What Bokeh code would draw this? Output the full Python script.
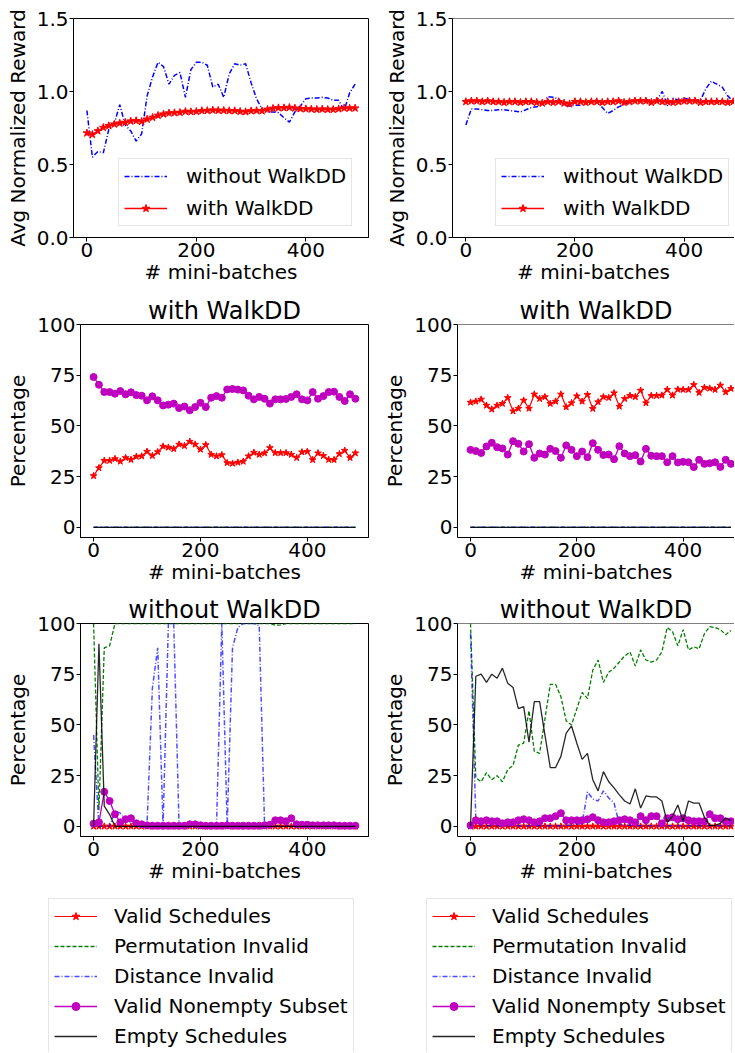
from bokeh.plotting import figure
from bokeh.layouts import column, row
from bokeh.models import (FixedTicker, PrintfTickFormatter, Range1d, Legend,
                          LegendItem, Span)
from bokeh.embed import file_html
from bokeh.resources import INLINE

# ---------------- data ----------------
batches = [0, 10, 20, 30, 40, 50, 60, 70, 80, 90,
           100, 110, 120, 130, 140, 150, 160, 170, 180, 190,
           200, 210, 220, 230, 240, 250, 260, 270, 280, 290,
           300, 310, 320, 330, 340, 350, 360, 370, 380, 390,
           400, 410, 420, 430, 440, 450, 460, 470, 480, 490]

x_ticks = [0, 200, 400]
reward_ticks = [0.0, 0.5, 1.0, 1.5]
pct_ticks = [0, 25, 50, 75, 100]

# top row: average normalized reward
reward_without_a = [0.87, 0.55, 0.59, 0.58, 0.74, 0.78, 0.91, 0.77, 0.73, 0.66,
                    0.71, 0.97, 1.10, 1.20, 1.17, 1.05, 1.11, 1.13, 0.96, 1.15,
                    1.20, 1.20, 1.18, 1.03, 1.05, 0.96, 1.12, 1.19, 1.18, 1.19,
                    1.06, 0.95, 0.88, 0.86, 0.86, 0.855, 0.82, 0.79, 0.86, 0.90,
                    0.95, 0.955, 0.955, 0.96, 0.955, 0.94, 0.94, 0.87, 0.99, 1.05]
reward_with_a = [0.715, 0.705, 0.73, 0.753, 0.765, 0.776, 0.783, 0.788, 0.797, 0.80,
                 0.795, 0.81, 0.822, 0.836, 0.845, 0.852, 0.854, 0.856, 0.863, 0.861,
                 0.863, 0.868, 0.869, 0.872, 0.870, 0.870, 0.868, 0.868, 0.863, 0.861,
                 0.867, 0.869, 0.867, 0.877, 0.884, 0.888, 0.888, 0.890, 0.886, 0.882,
                 0.881, 0.879, 0.877, 0.879, 0.877, 0.877, 0.881, 0.886, 0.886, 0.886]
reward_without_b = [0.77, 0.88, 0.88, 0.875, 0.87, 0.87, 0.875, 0.875, 0.87, 0.865,
                    0.86, 0.875, 0.89, 0.895, 0.91, 0.965, 0.96, 0.95, 0.91, 0.90,
                    0.905, 0.905, 0.92, 0.935, 0.94, 0.89, 0.85, 0.87, 0.895, 0.91,
                    0.93, 0.935, 0.945, 0.945, 0.93, 0.94, 1.00, 0.90, 0.955, 0.94,
                    0.955, 0.945, 0.94, 0.94, 1.02, 1.07, 1.05, 1.03, 0.97, 0.93]
reward_with_b = [0.93, 0.935, 0.935, 0.93, 0.935, 0.93, 0.93, 0.925, 0.93, 0.93,
                 0.925, 0.93, 0.93, 0.925, 0.92, 0.93, 0.925, 0.93, 0.92, 0.915,
                 0.93, 0.93, 0.925, 0.93, 0.93, 0.925, 0.93, 0.93, 0.935, 0.925,
                 0.93, 0.935, 0.935, 0.935, 0.925, 0.935, 0.93, 0.93, 0.925, 0.93,
                 0.935, 0.935, 0.935, 0.925, 0.93, 0.93, 0.93, 0.93, 0.925, 0.93]

zeros = [0, 0, 0, 0, 0, 0, 0, 0, 0, 0,
         0, 0, 0, 0, 0, 0, 0, 0, 0, 0,
         0, 0, 0, 0, 0, 0, 0, 0, 0, 0,
         0, 0, 0, 0, 0, 0, 0, 0, 0, 0,
         0, 0, 0, 0, 0, 0, 0, 0, 0, 0]

# middle row: with WalkDD (percentages)
valid_with_a = [25.4, 29.3, 32.9, 32.9, 33.8, 32.5, 34.3, 33.4, 34.9, 35.1,
                37.4, 35.3, 37.2, 39.9, 39.4, 38.7, 40.9, 40.2, 42.3, 40.9,
                38.4, 40.7, 35.9, 35.1, 35.7, 31.8, 31.5, 32.0, 32.5, 35.1,
                36.9, 35.9, 36.6, 39.2, 36.7, 36.7, 36.7, 35.9, 34.3, 37.1,
                37.4, 33.3, 36.6, 35.3, 33.4, 33.3, 36.2, 37.9, 34.3, 36.6]
nonempty_with_a = [74.1, 70.3, 66.7, 66.7, 65.9, 67.2, 65.6, 66.6, 65.2, 64.9,
                   62.6, 64.6, 62.6, 60.1, 60.5, 61.0, 58.8, 59.6, 57.7, 59.3,
                   61.4, 59.3, 63.9, 64.7, 63.9, 68.0, 68.2, 67.9, 67.5, 64.9,
                   63.1, 64.3, 63.4, 61.0, 63.1, 63.1, 63.3, 64.3, 65.6, 63.1,
                   62.6, 66.7, 63.4, 64.7, 66.7, 66.9, 64.3, 62.3, 65.6, 63.4]
valid_with_b = [61.6, 62.1, 63.1, 60.1, 58.2, 60.1, 61.0, 63.9, 57.3, 58.6,
                62.6, 58.6, 65.6, 63.4, 64.3, 61.0, 62.1, 65.6, 59.3, 61.3,
                64.7, 62.1, 65.4, 58.5, 61.8, 64.3, 63.9, 66.2, 59.6, 63.4,
                64.9, 64.3, 67.5, 61.3, 64.9, 64.9, 65.1, 67.9, 65.1, 68.0,
                67.9, 67.9, 70.3, 66.4, 68.9, 68.5, 67.9, 70.0, 66.7, 68.4]
nonempty_with_b = [38.2, 37.6, 36.7, 39.9, 41.7, 39.5, 38.9, 35.9, 42.5, 41.2,
                   37.4, 41.0, 34.3, 36.4, 35.9, 38.7, 37.6, 34.3, 40.4, 38.2,
                   35.1, 37.4, 34.6, 41.5, 38.2, 35.7, 35.9, 33.6, 40.0, 36.4,
                   35.1, 35.6, 32.5, 38.7, 35.3, 35.1, 35.1, 32.1, 35.1, 32.0,
                   32.3, 32.1, 29.7, 33.3, 31.3, 31.6, 32.1, 29.8, 33.3, 31.3]

# bottom row: without WalkDD (percentages)
perm_without_a = [100, 8, 88, 89, 100, 100, 100, 100, 100, 100,
                  100, 100, 100, 100, 100, 100, 100, 100, 100, 100,
                  100, 100, 100, 100, 100, 100, 100, 100, 100, 100,
                  100, 100, 100, 100, 99.2, 99.3, 100, 100, 100, 100,
                  100, 100, 100, 100, 100, 100, 100, 100, 100, 100]
dist_without_a = [45, 0, 0, 0, 7.5, 6.5, 3, 2, 0.5, 0,
                  0.8, 68, 88, 0, 100, 100, 0, 0, 0, 0,
                  0, 0, 0, 0, 100, 0, 88, 98, 100, 100,
                  100, 99, 0, 0, 0, 0, 0, 0, 0, 0,
                  0, 0, 0, 0, 0, 0, 0, 0, 0, 0]
nonempty_without_a = [1.3, 2, 17, 12.5, 6, 2, 3.5, 4, 1.5, 1,
                      0.5, 0.3, 0.3, 0.3, 0.3, 0.3, 0.3, 0.3, 1, 1,
                      0.5, 0.3, 0.3, 0.3, 0.3, 0.5, 0.3, 0.3, 0.3, 0.3,
                      0.3, 0.3, 0.5, 0.8, 3, 3, 2.5, 4, 1, 0.8,
                      0.8, 0.5, 0.5, 0.5, 0.5, 0.5, 0.3, 0.3, 0.3, 0.3]
empty_without_a = [0, 90, 10, 5.8, 0, 0, 0, 0, 0, 0,
                   0, 0, 0, 0, 0, 0, 0, 0, 0, 0,
                   0, 0, 0, 0, 0, 0, 0, 0, 0, 0,
                   0, 0, 0, 0, 0, 0, 0, 0, 0, 0,
                   0, 0, 0, 0, 0, 0, 0, 0, 0, 0]

perm_without_b = [100, 24, 22, 26.5, 23, 25, 22, 28, 30, 40,
                  41, 57, 37, 36, 53, 70, 70, 64, 52, 50,
                  58, 66, 63, 77, 82, 71, 76, 78, 81, 84,
                  86, 79, 87, 82, 81, 82, 86, 98, 96, 89,
                  97, 87, 88.5, 87.5, 95, 98.5, 98, 97, 94.5, 96.5]
dist_without_b = [95, 3, 0, 0.3, 0.3, 0.3, 0.3, 0.3, 0.3, 0.3,
                  0.3, 0.3, 0.3, 0.3, 0.3, 0.3, 0.3, 0.3, 0.5, 0.5,
                  1, 1.5, 17, 13.5, 12.5, 17.5, 14, 11.5, 1, 0.5,
                  0.5, 0.3, 0.3, 0.3, 0.3, 0.3, 0.3, 0.3, 0.3, 0.3,
                  0.3, 0.3, 0.3, 0.3, 0.3, 0.3, 0.3, 0.3, 0.3, 0.3]
nonempty_without_b = [0.5, 3, 2.5, 3, 2.5, 2.5, 1.5, 2, 2, 3,
                      3.5, 3, 2, 2.5, 4, 4, 5, 6.5, 3, 3,
                      3, 3, 3.5, 4.5, 3, 2, 2, 2.5, 3, 3.5,
                      3, 2, 5, 3, 5, 5, 1.5, 4, 4.5, 3.5,
                      4, 3, 2.5, 2.5, 2.5, 6, 4, 4, 2.5, 2.5]
empty_without_b = [0, 74, 75, 71, 75, 73, 78, 70.5, 68.5, 58,
                   59, 41.5, 61.5, 61.5, 45, 29, 29, 34.5, 46, 49.5,
                   41, 33, 36, 23, 17.5, 27, 22, 19, 15.5, 12.5,
                   11, 18.5, 9, 15, 14.5, 14.5, 12.5, 2, 5, 10.5,
                   2.5, 12.5, 11.5, 11.5, 4.5, 0.5, 0.5, 1.5, 4, 3]

legend_labels = ["Valid Schedules", "Permutation Invalid", "Distance Invalid",
                 "Valid Nonempty Subset", "Empty Schedules"]

# ---------------- styling ----------------
FONT = "DejaVu Sans"
RED = "#ff0000"
GREEN = "#008000"
BLUE = "#0000ff"
MAGENTA = "#bf00bf"
BLACK = "#000000"
DASHDOT = "5 2 1 2"
DASHED = "4 2"


def make_fig(width, height, x_end, y_range, yticks, yfmt, ylabel, title,
             bl, br, bt, bb, outline):
    kw = dict(width=width, height=height,
              x_range=Range1d(-24.5, x_end), y_range=Range1d(*y_range),
              output_backend="svg", toolbar_location=None,
              min_border_left=bl, min_border_right=br,
              min_border_top=bt, min_border_bottom=bb)
    if title:
        kw["title"] = title
    p = figure(**kw)
    p.xgrid.visible = False
    p.ygrid.visible = False
    p.background_fill_color = "white"
    p.border_fill_color = "white"
    if outline:
        p.outline_line_color = "black"
        p.outline_line_width = 1
        p.outline_line_alpha = 1
    else:
        p.outline_line_color = None
        p.add_layout(Span(location=y_range[1], dimension="width",
                          line_color="black", line_width=1))
    for ax in (p.xaxis[0], p.yaxis[0]):
        ax.major_tick_out = 4
        ax.major_tick_in = 0
        ax.minor_tick_out = 0
        ax.minor_tick_in = 0
        ax.major_label_text_font = FONT
        ax.major_label_text_font_size = "20px"
        ax.major_label_text_color = "black"
        ax.axis_label_text_font = FONT
        ax.axis_label_text_font_size = "20px"
        ax.axis_label_text_font_style = "normal"
        ax.axis_label_text_color = "black"
        ax.axis_line_color = "black"
        ax.major_tick_line_color = "black"
        ax.major_label_standoff = 1
    p.xaxis.ticker = FixedTicker(ticks=x_ticks)
    p.xaxis.axis_label = "# mini-batches"
    p.xaxis.axis_label_standoff = 0
    p.yaxis.ticker = FixedTicker(ticks=yticks)
    p.yaxis.formatter = PrintfTickFormatter(format=yfmt)
    p.yaxis.axis_label = ylabel
    p.yaxis.axis_label_standoff = 4
    if title:
        p.title.text_font = FONT
        p.title.text_font_size = "24px"
        p.title.text_font_style = "normal"
        p.title.text_color = "black"
        p.title.align = "center"
        p.title.standoff = 0
    return p


def style_legend(lg, padding, spacing, standoff):
    lg.label_text_font = FONT
    lg.label_text_font_size = "20px"
    lg.label_text_color = "black"
    lg.glyph_width = 43
    lg.glyph_height = 20
    lg.label_standoff = standoff
    lg.padding = padding
    lg.spacing = spacing
    lg.margin = 0
    lg.border_line_color = "#cccccc"
    lg.border_line_width = 1
    lg.background_fill_color = "white"
    lg.background_fill_alpha = 0.8


def reward_panel(width, x_end, without, with_, bl, br, outline, leg_x):
    p = make_fig(width, 290, x_end, (0, 1.5), reward_ticks, "%.1f",
                 "Avg Normalized Reward", None, bl, br, 18, 53, outline)
    r_blue = p.line(batches, without, line_color=BLUE, line_width=1.5,
                    line_dash=DASHDOT)
    r_red = p.line(batches, with_, line_color=RED, line_width=1.5)
    r_star = p.scatter(batches, with_, marker="star", size=8,
                       fill_color=RED, line_color=RED)
    lg = Legend(items=[LegendItem(label="without WalkDD", renderers=[r_blue]),
                       LegendItem(label="with WalkDD", renderers=[r_red, r_star])],
                location=(leg_x, 11))
    style_legend(lg, 5, 8, 19)
    p.add_layout(lg)
    return p


def add_series(p, xs, valid, perm, dist, nonempty, empty, star=7, dot=7):
    r_valid = p.line(xs, valid, line_color=RED, line_width=1.2)
    r_valid_m = p.scatter(xs, valid, marker="star", size=star,
                          fill_color=RED, line_color=RED)
    r_perm = p.line(xs, perm, line_color=GREEN, line_width=1.3,
                    line_dash=DASHED)
    r_dist = p.line(xs, dist, line_color=BLUE, line_width=1.5,
                    line_alpha=0.7, line_dash=DASHDOT)
    r_ne = p.line(xs, nonempty, line_color=MAGENTA, line_width=1.3)
    r_ne_m = p.scatter(xs, nonempty, marker="circle", size=dot,
                       fill_color=MAGENTA, line_color=MAGENTA)
    r_empty = p.line(xs, empty, line_color=BLACK, line_width=1.3,
                     line_alpha=0.85)
    return [[r_valid, r_valid_m], [r_perm], [r_dist], [r_ne, r_ne_m], [r_empty]]


def pct_panel(width, x_end, title, valid, perm, dist, nonempty, empty,
              bl, br, bb, outline):
    p = make_fig(width, 34 + 213 + bb, x_end, (-5, 100), pct_ticks, "%d",
                 "Percentage", title, bl, br, 34, bb, outline)
    add_series(p, batches, valid, perm, dist, nonempty, empty)
    return p


def legend_panel(width, height, leg_x, valid, perm, dist, nonempty, empty):
    # legend-only panel: the series are bound to it only to supply legend keys;
    # its y range lies above 100 % so none of them shows inside this panel.
    p = figure(width=width, height=height, x_range=Range1d(-24.5, 514.5),
               y_range=Range1d(200, 300), x_axis_location=None,
               y_axis_location=None, min_border=0, output_backend="svg",
               toolbar_location=None)
    p.xgrid.visible = False
    p.ygrid.visible = False
    p.outline_line_color = None
    groups = add_series(p, batches, valid, perm, dist, nonempty, empty,
                        star=6, dot=5)
    lg = Legend(items=[LegendItem(label=lab, renderers=g)
                       for lab, g in zip(legend_labels, groups)],
                location=(leg_x, -2))
    style_legend(lg, 5, 6, 17)
    p.add_layout(lg)
    return p


LEFT_END = 514.5
TOP_RIGHT_END = 492.4
RIGHT_END = 496.6

p11 = reward_panel(380, LEFT_END, reward_without_a, reward_with_a, 73, 12, True, 45)
p12 = reward_panel(354, TOP_RIGHT_END, reward_without_b, reward_with_b, 72, 0, False, 43)

p21 = pct_panel(378, LEFT_END, "with WalkDD", valid_with_a, zeros, zeros,
                nonempty_with_a, zeros, 80, 10, 52, True)
p22 = pct_panel(356, RIGHT_END, "with WalkDD", valid_with_b, zeros, zeros,
                nonempty_with_b, zeros, 79, 0, 52, False)

p31 = pct_panel(378, LEFT_END, "without WalkDD", zeros, perm_without_a,
                dist_without_a, nonempty_without_a, empty_without_a,
                80, 10, 53, True)
p32 = pct_panel(356, RIGHT_END, "without WalkDD", zeros, perm_without_b,
                dist_without_b, nonempty_without_b, empty_without_b,
                79, 0, 53, False)

p41 = legend_panel(378, 163, 48, zeros, perm_without_a, dist_without_a,
                   nonempty_without_a, empty_without_a)
p42 = legend_panel(356, 163, 48, zeros, perm_without_b, dist_without_b,
                   nonempty_without_b, empty_without_b)

layout = column(row(p11, p12), row(p21, p22), row(p31, p32), row(p41, p42))

open("out.html", "w").write(file_html(layout, INLINE))
